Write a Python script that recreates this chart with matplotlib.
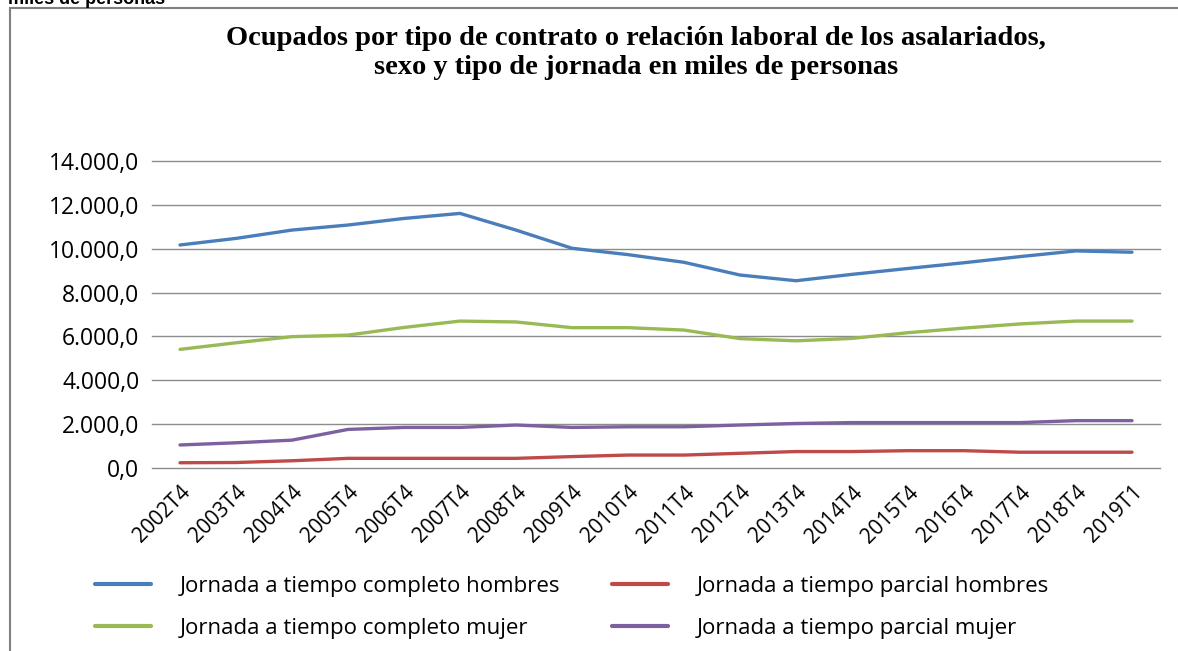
import matplotlib
matplotlib.use("Agg")
import matplotlib.pyplot as plt
from matplotlib.patches import Rectangle
from matplotlib.ticker import FuncFormatter

categories = ["2002T4", "2003T4", "2004T4", "2005T4", "2006T4", "2007T4", "2008T4",
              "2009T4", "2010T4", "2011T4", "2012T4", "2013T4", "2014T4", "2015T4",
              "2016T4", "2017T4", "2018T4", "2019T1"]
completo_hombres = [10170, 10470, 10850, 11080, 11380, 11610, 10850, 10020, 9730, 9380,
                    8800, 8540, 8830, 9100, 9360, 9640, 9900, 9840]
parcial_hombres = [240, 250, 330, 440, 440, 440, 440, 520, 590, 590, 670, 750, 750, 790,
                   790, 720, 720, 720]
completo_mujer = [5410, 5710, 5990, 6060, 6410, 6700, 6660, 6400, 6400, 6290, 5900, 5800,
                  5910, 6170, 6380, 6570, 6700, 6700]
parcial_mujer = [1050, 1150, 1270, 1760, 1850, 1850, 1960, 1850, 1880, 1880, 1960, 2030,
                 2070, 2070, 2070, 2070, 2160, 2160]
labels = ["Jornada a tiempo completo hombres", "Jornada a tiempo parcial hombres",
          "Jornada a tiempo completo mujer", "Jornada a tiempo parcial mujer"]
title = "Ocupados por tipo de contrato o relación laboral de los asalariados,\nsexo y tipo de jornada en miles de personas"

W, H = 1178, 651
fig = plt.figure(figsize=(W / 100, H / 100), dpi=100)

# outer frame
fig.patches.append(Rectangle((10 / W, -0.05), 1.1, 1 - 8 / H + 0.05, transform=fig.transFigure,
                             fill=False, edgecolor="#808080", linewidth=1.5))
fig.text(8 / W, 1 + 1 / H, "miles de personas", fontsize=13, fontweight="bold",
         family="Liberation Sans", ha="left", va="center")

ax = fig.add_axes([152 / W, 1 - 468 / H, (1160 - 152) / W, (468 - 161) / H])
x = list(range(len(categories)))
colors = ["#4A7EBB", "#BE4B48", "#98B954", "#7D60A0"]
series = [completo_hombres, parcial_hombres, completo_mujer, parcial_mujer]
lines = []
for s, c, l in zip(series, colors, labels):
    ln, = ax.plot(x, s, color=c, linewidth=2.4, label=l, solid_capstyle="round", zorder=3)
    lines.append(ln)

ax.set_xlim(-0.5, len(categories) - 0.5)
ax.set_ylim(0, 14000)
ax.set_yticks(range(0, 14001, 2000))
ax.yaxis.set_major_formatter(FuncFormatter(lambda v, p: f"{int(v):,}".replace(",", ".") + ",0"))
ax.set_xticks(x)
ax.set_xticklabels(categories, rotation=45, ha="right", rotation_mode="anchor",
                   fontsize=15, family="Open Sans")
for t in ax.get_yticklabels():
    t.set_fontsize(16.5)
    t.set_family("Open Sans")
ax.tick_params(axis="x", length=0, pad=10)
ax.tick_params(axis="y", length=0, pad=9)
ax.grid(axis="y", color="#8c8c8c", linewidth=1.0)
for gl in ax.get_ygridlines():
    gl.set_clip_on(False)
ax.set_axisbelow(True)
for sp in ax.spines.values():
    sp.set_visible(False)

fig.text(636 / W, 1 - 53 / H, title, ha="center", va="center", fontsize=20.5,
         fontweight="bold", family="Liberation Serif", linespacing=1.25)

common = dict(frameon=False, prop={"family": "Open Sans", "size": 16},
              handlelength=2.5, handletextpad=1.3, labelspacing=0.95,
              borderpad=0, borderaxespad=0, loc="upper left")
leg1 = fig.legend(handles=[lines[0], lines[2]], labels=[labels[0], labels[2]],
                  bbox_to_anchor=(95 / W, 1 - 576 / H), **common)
leg2 = fig.legend(handles=[lines[1], lines[3]], labels=[labels[1], labels[3]],
                  bbox_to_anchor=(612 / W, 1 - 576 / H), **common)
for leg in (leg1, leg2):
    for h in leg.get_lines():
        h.set_linewidth(3)

fig.savefig("out.png", dpi=100)
